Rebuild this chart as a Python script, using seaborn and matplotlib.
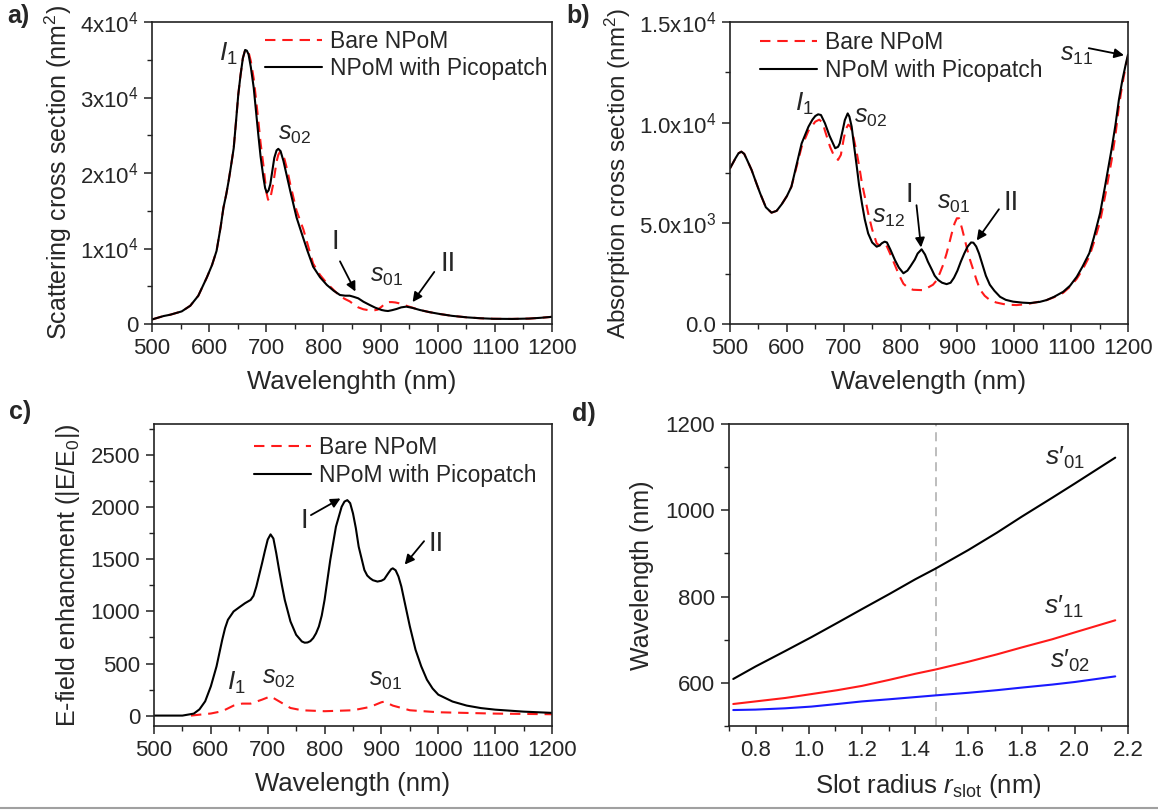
import numpy as np
import pandas as pd
import matplotlib
matplotlib.use("Agg")
import matplotlib.pyplot as plt
import seaborn as sns
from matplotlib.ticker import MultipleLocator, FuncFormatter

# -----------------------------------------------------------------------------
# DATA
# -----------------------------------------------------------------------------
# a) scattering cross section (nm^2)
sca_wl_pp = [500, 520, 532, 552, 567, 581, 596, 605, 613, 620, 625, 630, 634, 638, 643, 647, 651,
             655, 659, 663, 666, 669, 673, 678, 682, 686, 690, 695, 698, 701, 704, 707, 710, 714,
             718, 721, 725, 730, 736, 742, 753, 762, 772, 782, 794, 806, 818, 829, 838, 846, 853,
             861, 870, 881, 891, 902, 908, 913, 920, 928, 936, 945, 955, 969, 985, 1004, 1025,
             1051, 1075, 1097, 1130, 1160, 1180, 1200]
sca_pp = [600, 1050, 1230, 1670, 2420, 3740, 6170, 7800, 9690, 12800, 15400, 17200, 18900, 20800, 23300, 26800, 30400,
          33000, 35200, 36300, 36200, 35700, 34000, 31300, 28200, 25100, 22200, 19400, 18000, 17400, 17700, 18500, 20000, 22000,
          23000, 23200, 22900, 21600, 19600, 17600, 14100, 12000, 9700, 7590, 6200, 5170, 4400, 3840, 3750, 3750, 3600,
          3400, 2950, 2520, 2150, 1850, 1760, 1720, 1830, 1990, 2200, 2300, 2150, 1850, 1580, 1320, 1080,
          880, 760, 690, 670, 720, 820, 950]
sca_wl_bare = [500, 520, 532, 552, 567, 581, 596, 605, 613, 620, 625, 630, 634, 638, 643, 647, 651,
               655, 659, 663, 666, 669, 673, 678, 682, 686, 690, 695, 700, 703, 705, 708, 712, 715,
               718, 721, 724, 728, 732, 737, 742, 753, 765, 782, 794, 806, 818, 829, 838, 846, 853,
               861, 870, 881, 888, 895, 902, 909, 915, 920, 926, 932, 940, 950, 969, 985, 1004, 1025,
               1051, 1075, 1097, 1130, 1160, 1180, 1200]
sca_bare = [600, 1050, 1230, 1670, 2420, 3740, 6170, 7800, 9690, 12800, 15400, 17200, 18900, 20800, 23300, 26800, 30400,
            33000, 35200, 36300, 36300, 36000, 34800, 32500, 29800, 27000, 24000, 21000, 17500, 16500, 16300, 17000, 18500, 20000,
            21500, 22400, 22800, 22600, 21800, 20300, 18500, 15000, 12500, 8000, 6500, 5400, 4500, 3700, 3300, 3000, 2600,
            2200, 1950, 1800, 1800, 1900, 2300, 2800, 2900, 2900, 2850, 2750, 2550, 2300, 1850, 1580, 1320, 1080,
            880, 760, 690, 670, 720, 820, 950]

# b) absorption cross section (nm^2)
abs_wl_pp = [500, 510, 515, 520, 525, 530, 538, 545, 553, 563, 573, 582, 591, 600, 608, 617, 626, 638,
             645, 650, 655, 660, 667, 675, 685, 690, 693, 698, 702, 707, 710, 714, 718, 723, 727, 732,
             737, 743, 750, 758, 763, 767, 772, 776, 782, 790, 797, 805, 812, 817, 825, 830, 837, 843,
             848, 855, 860, 866, 873, 881, 888, 894, 900, 906, 912, 918, 924, 928, 933, 938, 944, 950,
             957, 965, 975, 985, 998, 1015, 1028, 1045, 1057, 1070, 1086, 1098, 1110, 1120, 1132, 1140,
             1151, 1160, 1171, 1178, 1184, 1190, 1196, 1200]
abs_pp = [7730, 8250, 8480, 8560, 8450, 8150, 7650, 7100, 6490, 5800, 5530, 5620, 5950, 6350, 6820, 7900, 8970, 9800,
          10150, 10330, 10415, 10380, 9970, 9350, 8730, 8800, 8970, 9600, 10130, 10460, 10300, 9800, 8900, 7810, 6900, 6000,
          5200, 4500, 4050, 3840, 3900, 4010, 4090, 4050, 3700, 3180, 2800, 2520, 2650, 2850, 3200, 3500, 3710, 3450,
          3100, 2700, 2400, 2190, 2050, 1980, 2050, 2300, 2650, 3100, 3500, 3850, 4050, 4040, 3850, 3500, 2950, 2400,
          1950, 1650, 1350, 1200, 1110, 1060, 1040, 1100, 1190, 1350, 1600, 1900, 2350, 2850, 3520, 4300,
          5510, 6900, 8660, 9900, 11140, 12100, 12900, 13380]
abs_wl_bare = [500, 510, 515, 520, 525, 530, 538, 545, 553, 563, 573, 582, 591, 600, 608, 617, 626, 638,
               650, 657, 663, 667, 676, 683, 690, 695, 700, 704, 708, 712, 717, 723, 728, 732, 738, 743,
               750, 758, 763, 767, 772, 776, 783, 790, 797, 805, 813, 822, 840, 857, 863, 869, 875, 881,
               886, 890, 895, 899, 903, 908, 912, 916, 922, 928, 934, 940, 948, 957, 968, 981, 995, 1004,
               1020, 1039, 1057, 1070, 1086, 1098, 1110, 1120, 1132, 1140, 1151, 1160, 1171, 1178, 1184,
               1190, 1196, 1200]
abs_bare = [7730, 8250, 8480, 8560, 8450, 8150, 7650, 7100, 6490, 5800, 5530, 5620, 5950, 6350, 6820, 7800, 8800, 9600,
            10050, 10150, 10000, 9600, 8800, 8350, 8150, 8400, 9200, 9700, 9900, 9800, 9300, 8500, 7700, 7000, 6200, 5500,
            4700, 4000, 3900, 3950, 4000, 3850, 3400, 2930, 2450, 2000, 1800, 1700, 1680, 1950, 2150, 2520, 2950, 3510,
            4050, 4500, 5000, 5250, 5250, 4750, 4300, 3840, 3200, 2680, 2150, 1700, 1400, 1190, 1070, 990, 950, 940,
            980, 1080, 1190, 1330, 1550, 1850, 2250, 2700, 3350, 4050, 5100, 6400, 8100, 9400, 10800,
            11900, 12800, 13300]

# c) E-field enhancement |E/E0|
enh_wl = [500, 550, 570, 580, 590, 600, 610, 620, 625, 630, 640, 650, 660, 670, 675, 680, 690, 695,
          700, 705, 710, 715, 720, 725, 730, 740, 750, 760, 765, 770, 775, 780, 785, 790, 795, 800,
          810, 820, 830, 835, 840, 845, 850, 855, 860, 870, 875, 880, 885, 893, 900, 905, 912, 917,
          920, 925, 930, 935, 940, 950, 960, 970, 980, 990, 1000, 1025, 1050, 1075, 1100, 1150, 1200]
enh_pp = [0, 0, 19, 60, 137, 281, 473, 728, 840, 920, 1000, 1040, 1079, 1111, 1150, 1239, 1462, 1580,
          1690, 1740, 1700, 1560, 1400, 1250, 1111, 904, 776, 712, 700, 702, 715, 744, 790, 856, 960, 1111,
          1494, 1814, 2005, 2055, 2069, 2040, 1941, 1800, 1622, 1398, 1345, 1319, 1300, 1287, 1295, 1310, 1367, 1405,
          1414, 1395, 1335, 1240, 1111, 856, 632, 473, 345, 260, 201, 135, 96, 72, 57, 38, 26]
enh_wl_bare = [565, 600, 620, 640, 655, 670, 690, 705, 720, 740, 760, 800, 850, 880, 900, 905,
               920, 950, 1000, 1100, 1200]
enh_bare = [0, 20, 42, 96, 115, 115, 153, 185, 137, 73, 51, 42, 51, 83, 128, 134,
            96, 51, 32, 19, 13]

# d) mode wavelength vs slot radius
r_slot = [0.716, 0.8, 0.912, 1.01, 1.107, 1.2, 1.303, 1.4, 1.477, 1.6, 1.707, 1.8, 1.915, 2.0, 2.152]
wl_s01 = [609, 638, 674, 706, 739, 771, 806, 840, 865, 908, 948, 985, 1029, 1062, 1122]
wl_s11 = [551, 557, 565, 574, 583, 593, 607, 621, 631, 649, 666, 682, 701, 717, 745]
wl_s02 = [537, 538, 541, 545, 551, 557, 562, 567, 571, 577, 583, 589, 596, 602, 615]
r_marker = 1.477

LEG_BARE = "Bare NPoM"
LEG_PP = "NPoM with Picopatch"

# -----------------------------------------------------------------------------
# STYLE
# -----------------------------------------------------------------------------
sns.set_theme(style="ticks")
plt.rcParams["font.family"] = ["Liberation Sans", "DejaVu Sans"]
plt.rcParams["mathtext.fontset"] = "custom"
plt.rcParams["mathtext.rm"] = "Liberation Sans"
plt.rcParams["mathtext.it"] = "Liberation Sans:italic"
plt.rcParams["mathtext.bf"] = "Liberation Sans:bold"
plt.rcParams["axes.edgecolor"] = "#222222"
plt.rcParams["axes.linewidth"] = 1.2

TICK_FS = 16
LEG_FS = 16.5
LABEL_FS = 18.5
YLABEL_FS = 18
ANN_FS = 18
ROMAN_FS = 20
DASH = (0, (5, 3.3))
LW = 1.5

W, H = 1158, 810
fig = plt.figure(figsize=(W / 100, H / 100), dpi=100)


def box(l, t, r, b):
    return [l / W, 1 - b / H, (r - l) / W, (b - t) / H]


ax_a = fig.add_axes(box(152, 22, 552, 324))
ax_b = fig.add_axes(box(730, 22, 1128, 324))
ax_c = fig.add_axes(box(154, 424, 552, 726))
ax_d = fig.add_axes(box(729, 424, 1128, 726))

for ax in (ax_a, ax_b, ax_c, ax_d):
    ax.tick_params(which="major", direction="out", length=6, width=1.1,
                   labelsize=TICK_FS, color="#222222", pad=4)
    ax.tick_params(which="minor", direction="out", length=3.5, width=1.0, color="#222222")
    for s in ax.spines.values():
        s.set_visible(True)


def spectra(ax, wl_bare, bare, wl_pp, pp):
    sns.lineplot(x=wl_bare, y=bare, ax=ax, color="#ff1a1a", lw=LW, linestyle=DASH,
                 label=LEG_BARE, estimator=None, sort=False)
    sns.lineplot(x=wl_pp, y=pp, ax=ax, color="black", lw=LW,
                 label=LEG_PP, estimator=None, sort=False)


def arrow(ax, tail, head):
    ax.annotate("", xy=head, xytext=tail,
                arrowprops=dict(arrowstyle="-|>", color="black", lw=1.3,
                                mutation_scale=14, shrinkA=0, shrinkB=0))


def legend(ax, x, y):
    ax.legend(loc="upper left", bbox_to_anchor=(x, y), frameon=False, fontsize=LEG_FS,
              handlelength=2.5, handletextpad=0.35, labelspacing=0.2,
              borderaxespad=0, borderpad=0.2)


def wl_axis(ax, label):
    ax.set_xlim(500, 1200)
    ax.xaxis.set_major_locator(MultipleLocator(100))
    ax.xaxis.set_minor_locator(MultipleLocator(50))
    ax.set_xlabel(label, fontsize=LABEL_FS, labelpad=8)


def mode(s):
    return r"$\mathit{s}_{\mathrm{" + s + "}}$"


def mode_p(s):
    return r"$\mathit{s}$" + "\u2032" + r"$_{\mathrm{" + s + "}}$"


I1 = r"$\mathit{I}_{\mathrm{1}}$"

# ---- a) scattering
spectra(ax_a, sca_wl_bare, sca_bare, sca_wl_pp, sca_pp)
wl_axis(ax_a, "Wavelenghth (nm)")
ax_a.set_ylim(0, 40000)
ax_a.yaxis.set_major_locator(MultipleLocator(10000))
ax_a.yaxis.set_minor_locator(MultipleLocator(5000))
ax_a.yaxis.set_major_formatter(FuncFormatter(
    lambda v, p: "0" if v == 0 else f"{int(round(v / 1e4))}x10$^{{4}}$"))
ax_a.set_ylabel("Scattering cross section (nm$^2$)", fontsize=YLABEL_FS, labelpad=4)
legend(ax_a, 0.27, 0.99)
ax_a.text(633, 35800, I1, fontsize=ANN_FS + 1, ha="center", va="center")
ax_a.text(750, 25200, mode("02"), fontsize=ANN_FS, ha="center", va="center")
ax_a.text(820, 10900, "I", fontsize=ROMAN_FS, ha="center", va="center")
arrow(ax_a, (829, 8300), (856, 4300))
ax_a.text(911, 6300, mode("01"), fontsize=ANN_FS, ha="center", va="center")
ax_a.text(1018, 8000, "II", fontsize=ROMAN_FS, ha="center", va="center")
arrow(ax_a, (994, 6900), (956, 2900))

# ---- b) absorption
spectra(ax_b, abs_wl_bare, abs_bare, abs_wl_pp, abs_pp)
wl_axis(ax_b, "Wavelength (nm)")
ax_b.set_ylim(0, 15000)
ax_b.yaxis.set_major_locator(MultipleLocator(5000))
ax_b.yaxis.set_minor_locator(MultipleLocator(2500))
b_labels = {0: "0.0", 5000: "5.0x10$^{3}$", 10000: "1.0x10$^{4}$", 15000: "1.5x10$^{4}$"}
ax_b.yaxis.set_major_formatter(FuncFormatter(lambda v, p: b_labels.get(int(round(v)), "")))
ax_b.set_ylabel("Absorption cross section (nm$^2$)", fontsize=17.5, labelpad=4)
legend(ax_b, 0.063, 0.985)
ax_b.text(630, 10950, I1, fontsize=ANN_FS + 1, ha="center", va="center")
ax_b.text(748, 10300, mode("02"), fontsize=ANN_FS, ha="center", va="center")
ax_b.text(778, 5300, mode("12"), fontsize=ANN_FS, ha="center", va="center")
ax_b.text(816, 6400, "I", fontsize=ROMAN_FS, ha="center", va="center")
arrow(ax_b, (828, 5900), (836, 3800))
ax_b.text(893, 6000, mode("01"), fontsize=ANN_FS, ha="center", va="center")
ax_b.text(995, 6000, "II", fontsize=ROMAN_FS, ha="center", va="center")
arrow(ax_b, (973, 5700), (934, 4150))
ax_b.text(1109, 13350, mode("11"), fontsize=ANN_FS, ha="center", va="center")
arrow(ax_b, (1131, 13700), (1193, 13350))

# ---- c) field enhancement
spectra(ax_c, enh_wl_bare, enh_bare, enh_wl, enh_pp)
wl_axis(ax_c, "Wavelength (nm)")
ax_c.set_ylim(-100, 2800)
ax_c.yaxis.set_major_locator(MultipleLocator(500))
ax_c.yaxis.set_minor_locator(MultipleLocator(250))
ax_c.set_ylabel("E-field enhancment (|E/E$_{\\mathrm{0}}$|)", fontsize=YLABEL_FS, labelpad=6)
legend(ax_c, 0.24, 0.975)
ax_c.text(644, 310, I1, fontsize=ANN_FS + 1, ha="center", va="center")
ax_c.text(719, 360, mode("02"), fontsize=ANN_FS, ha="center", va="center")
ax_c.text(908, 345, mode("01"), fontsize=ANN_FS, ha="center", va="center")
ax_c.text(764, 1870, "I", fontsize=ROMAN_FS, ha="center", va="center")
arrow(ax_c, (776, 1925), (828, 2085))
ax_c.text(997, 1650, "II", fontsize=ROMAN_FS, ha="center", va="center")
arrow(ax_c, (975, 1675), (941, 1450))

# ---- d) mode dispersion
ax_d.axvline(r_marker, color="#b8b8b8", lw=1.3, linestyle=(0, (5, 3.3)), zorder=1)
sns.lineplot(x=r_slot, y=wl_s01, ax=ax_d, color="black", lw=LW, estimator=None, sort=False)
sns.lineplot(x=r_slot, y=wl_s11, ax=ax_d, color="#ff1a1a", lw=LW, estimator=None, sort=False)
sns.lineplot(x=r_slot, y=wl_s02, ax=ax_d, color="#1a1aff", lw=LW, estimator=None, sort=False)
ax_d.set_xlim(0.7, 2.2)
ax_d.set_ylim(500, 1200)
ax_d.xaxis.set_major_locator(MultipleLocator(0.2))
ax_d.xaxis.set_minor_locator(MultipleLocator(0.1))
ax_d.xaxis.set_major_formatter(FuncFormatter(lambda v, p: f"{v:.1f}"))
ax_d.yaxis.set_major_locator(MultipleLocator(200))
ax_d.yaxis.set_minor_locator(MultipleLocator(100))
ax_d.set_xlabel(r"Slot radius $\mathit{r}_{\mathrm{slot}}$ (nm)", fontsize=LABEL_FS, labelpad=8)
ax_d.set_ylabel("Wavelength (nm)", fontsize=YLABEL_FS, labelpad=8)
ax_d.text(1.965, 1121, mode_p("01"), fontsize=ANN_FS + 1, ha="center", va="center")
ax_d.text(1.96, 777, mode_p("11"), fontsize=ANN_FS + 1, ha="center", va="center")
ax_d.text(1.98, 650, mode_p("02"), fontsize=ANN_FS + 1, ha="center", va="center")

# panel letters
for txt, x, y in [("a)", 7, 16), ("b)", 566, 16), ("c)", 9, 412), ("d)", 572, 414)]:
    fig.text(x / W, 1 - y / H, txt, fontsize=18, fontweight="bold", ha="left", va="center")

# thin page border at the bottom
fig.add_artist(plt.Line2D([0, 1], [0.003, 0.003], color="#a0a0a0", lw=1.5,
                          transform=fig.transFigure))

fig.savefig("out.png", dpi=100)
